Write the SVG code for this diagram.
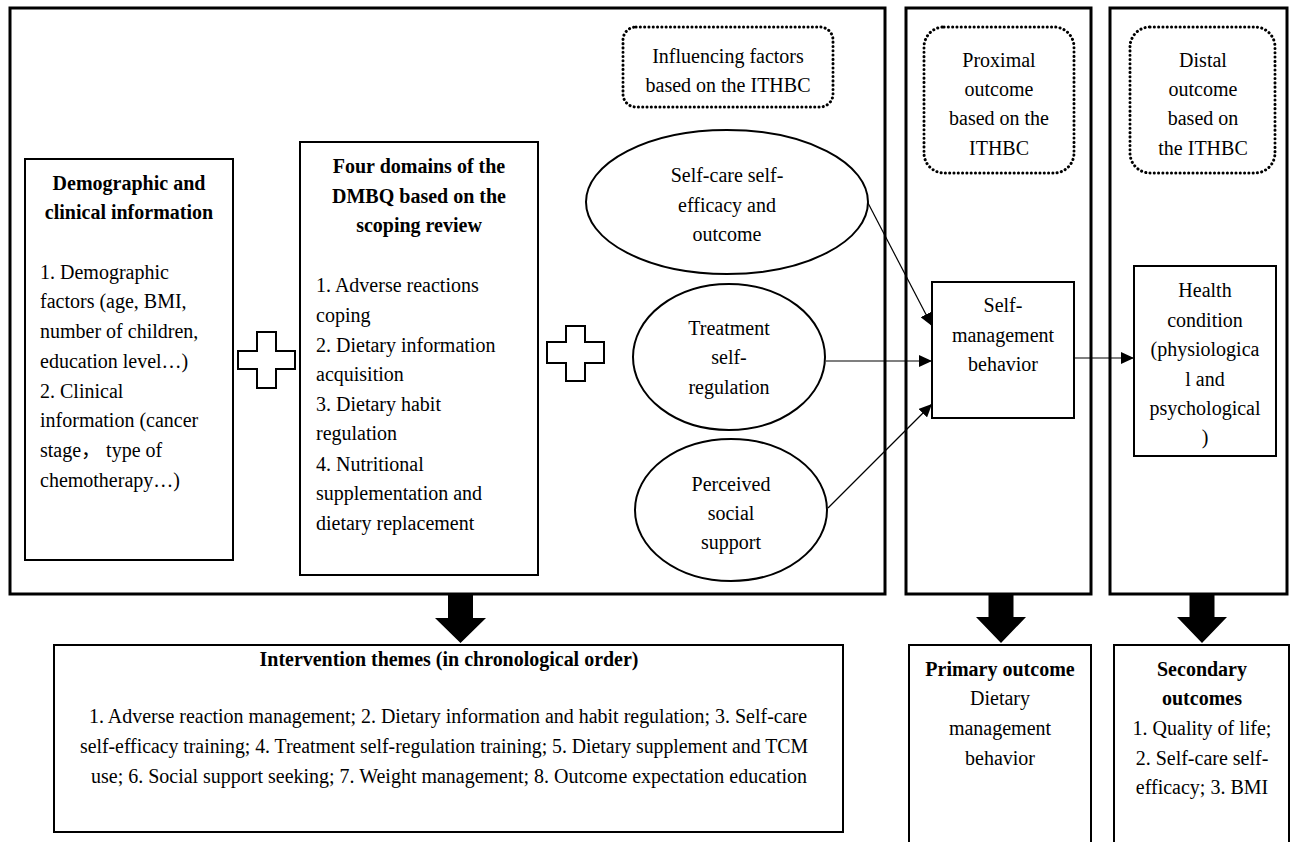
<svg xmlns="http://www.w3.org/2000/svg" width="1290" height="842" viewBox="0 0 1290 842">
<defs>
<style>
text{font-family:"Liberation Serif","Times New Roman","Noto Sans CJK SC",serif;font-size:20px;fill:#000}
.b{font-weight:bold}
.c{text-anchor:middle}
.frame{fill:none;stroke:#000;stroke-width:3}
.box{fill:#fff;stroke:#000;stroke-width:2}
.dot{fill:none;stroke:#000;stroke-width:3;stroke-dasharray:0.1 4.2;stroke-linecap:round}
.conn{fill:none;stroke:#000;stroke-width:1.2}
.big{fill:#000;stroke:none}
</style>
<marker id="ah" markerUnits="userSpaceOnUse" markerWidth="14" markerHeight="12" refX="13" refY="6" orient="auto">
<path d="M0,0 L13,6 L0,12 z" fill="#000"/>
</marker>
</defs>
<rect width="1290" height="842" fill="#fff"/>

<g id="frames">
<rect class="frame" x="10" y="8" width="875" height="586"/>
<rect class="frame" x="906" y="8" width="185" height="586"/>
<rect class="frame" x="1110" y="8" width="177" height="586"/>
</g>

<g id="influencing-label">
<rect class="dot" x="623" y="27" width="210" height="80" rx="13"/>
<text class="c" x="728" y="63">Influencing factors</text>
<text class="c" x="728" y="92">based on the ITHBC</text>
</g>
<g id="proximal-label">
<rect class="dot" x="924" y="27" width="150" height="146" rx="20"/>
<text class="c" x="999" y="67">Proximal</text>
<text class="c" x="999" y="96">outcome</text>
<text class="c" x="999" y="125">based on the</text>
<text class="c" x="999" y="155">ITHBC</text>
</g>
<g id="distal-label">
<rect class="dot" x="1130" y="27" width="145" height="146" rx="20"/>
<text class="c" x="1203" y="67">Distal</text>
<text class="c" x="1203" y="96">outcome</text>
<text class="c" x="1203" y="125">based on</text>
<text class="c" x="1203" y="155">the ITHBC</text>
</g>

<g id="demographic">
<rect class="box" x="25" y="159" width="208" height="401"/>
<text class="c b" x="129" y="190">Demographic and</text>
<text class="c b" x="129" y="219">clinical information</text>
<text x="40" y="279">1. Demographic</text>
<text x="40" y="308">factors (age, BMI,</text>
<text x="40" y="338">number of children,</text>
<text x="40" y="368">education level…)</text>
<text x="40" y="398">2. Clinical</text>
<text x="40" y="427">information (cancer</text>
<text x="40" y="457">stage， type of</text>
<text x="40" y="487">chemotherapy…)</text>
</g>

<g id="plus1">
<path class="box" d="M257,332 H276 V351 H295 V369 H276 V388 H257 V369 H238 V351 H257 Z"/>
</g>

<g id="domains">
<rect class="box" x="300" y="142" width="238" height="433"/>
<text class="c b" x="419" y="173">Four domains of the</text>
<text class="c b" x="419" y="203">DMBQ based on the</text>
<text class="c b" x="419" y="232">scoping review</text>
<text x="316" y="292">1. Adverse reactions</text>
<text x="316" y="322">coping</text>
<text x="316" y="352">2. Dietary information</text>
<text x="316" y="381">acquisition</text>
<text x="316" y="411">3. Dietary habit</text>
<text x="316" y="440">regulation</text>
<text x="316" y="471">4. Nutritional</text>
<text x="316" y="500">supplementation and</text>
<text x="316" y="530">dietary replacement</text>
</g>

<g id="plus2">
<path class="box" d="M566,326 H585 V342 H604 V363 H585 V381 H566 V363 H547 V342 H566 Z"/>
</g>

<g id="self-efficacy">
<ellipse class="box" cx="727" cy="202" rx="141" ry="72"/>
<text class="c" x="727" y="182">Self-care self-</text>
<text class="c" x="727" y="212">efficacy and</text>
<text class="c" x="727" y="241">outcome</text>
</g>
<g id="treatment">
<ellipse class="box" cx="729" cy="357" rx="96" ry="73"/>
<text class="c" x="729" y="335">Treatment</text>
<text class="c" x="729" y="364">self-</text>
<text class="c" x="729" y="394">regulation</text>
</g>
<g id="social">
<ellipse class="box" cx="731" cy="510" rx="96" ry="71"/>
<text class="c" x="731" y="491">Perceived</text>
<text class="c" x="731" y="520">social</text>
<text class="c" x="731" y="549">support</text>
</g>

<g id="self-management">
<rect class="box" x="932" y="282" width="142" height="136"/>
<text class="c" x="1003" y="312">Self-</text>
<text class="c" x="1003" y="342">management</text>
<text class="c" x="1003" y="371">behavior</text>
</g>

<g id="health">
<rect class="box" x="1134" y="266" width="142" height="190"/>
<text class="c" x="1205" y="297">Health</text>
<text class="c" x="1205" y="327">condition</text>
<text class="c" x="1205" y="356">(physiologica</text>
<text class="c" x="1205" y="386">l and</text>
<text class="c" x="1205" y="415">psychological</text>
<text class="c" x="1205" y="444">)</text>
</g>

<g id="connectors">
<line class="conn" x1="868" y1="203" x2="932" y2="326" marker-end="url(#ah)"/>
<line class="conn" x1="826" y1="361" x2="932" y2="361" marker-end="url(#ah)"/>
<line class="conn" x1="828" y1="508" x2="932" y2="404" marker-end="url(#ah)"/>
<line class="conn" x1="1074" y1="358" x2="1134" y2="358" marker-end="url(#ah)"/>
<path class="big" d="M448,594 H473 V618 H486 L460.5,643 L435,618 H448 Z"/>
<path class="big" d="M988.5,594 H1013.5 V617 H1026 L1001,643 L976,617 H988.5 Z"/>
<path class="big" d="M1189.5,594 H1214.5 V617 H1227 L1202,643 L1177,617 H1189.5 Z"/>
</g>

<g id="intervention">
<rect class="box" x="54" y="645" width="789" height="187"/>
<text class="c b" x="449" y="666" textLength="379" lengthAdjust="spacingAndGlyphs">Intervention themes (in chronological order)</text>
<text class="c" x="448" y="723" textLength="718" lengthAdjust="spacingAndGlyphs">1. Adverse reaction management; 2. Dietary information and habit regulation; 3. Self-care</text>
<text class="c" x="444" y="753" textLength="728" lengthAdjust="spacingAndGlyphs">self-efficacy training; 4. Treatment self-regulation training; 5. Dietary supplement and TCM</text>
<text class="c" x="449" y="783" textLength="716" lengthAdjust="spacingAndGlyphs">use; 6. Social support seeking; 7. Weight management; 8. Outcome expectation education</text>
</g>

<g id="primary">
<rect class="box" x="909" y="645" width="182" height="210"/>
<text class="c b" x="1000" y="676">Primary outcome</text>
<text class="c" x="1000" y="705">Dietary</text>
<text class="c" x="1000" y="735">management</text>
<text class="c" x="1000" y="765">behavior</text>
</g>

<g id="secondary">
<rect class="box" x="1114" y="645" width="175" height="210"/>
<text class="c b" x="1202" y="676">Secondary</text>
<text class="c b" x="1202" y="705">outcomes</text>
<text class="c" x="1202" y="735">1. Quality of life;</text>
<text class="c" x="1202" y="765">2. Self-care self-</text>
<text class="c" x="1202" y="794">efficacy; 3. BMI</text>
</g>
</svg>
